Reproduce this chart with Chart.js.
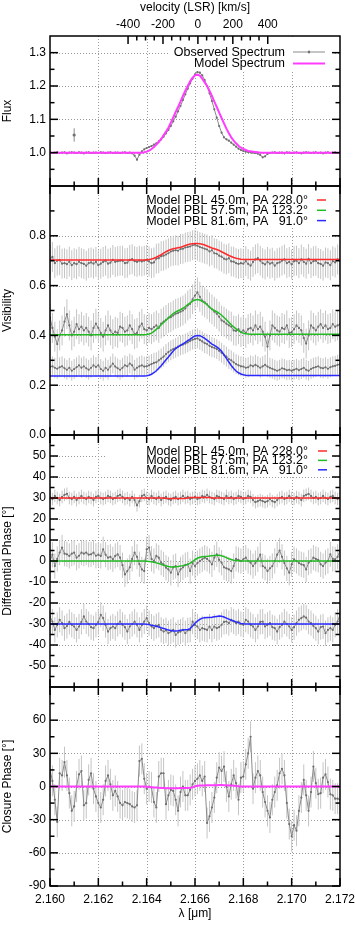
<!DOCTYPE html>
<html><head><meta charset="utf-8">
<script src="https://cdn.jsdelivr.net/npm/chart.js@4.4.1/dist/chart.umd.min.js"></script>
<style>
html,body{margin:0;padding:0;background:#fff;width:355px;height:925px;overflow:hidden}
canvas{position:absolute;left:0}
</style></head><body>
<canvas id="c1" width="355" height="196" style="top:0px;width:355px;height:196px"></canvas>
<canvas id="c2" width="355" height="269" style="top:176px;width:355px;height:269px"></canvas>
<canvas id="c3" width="355" height="272" style="top:425px;width:355px;height:272px"></canvas>
<canvas id="c4" width="355" height="248" style="top:677px;width:355px;height:248px"></canvas>
<script>
// ---------------- DATA ----------------
const wavelength = [
2.1600,2.1601,2.1602,2.1603,2.1604,2.1605,2.1606,2.1607,2.1608,2.1609,
2.1610,2.1611,2.1612,2.1613,2.1614,2.1615,2.1616,2.1617,2.1618,2.1619,
2.1620,2.1621,2.1622,2.1623,2.1624,2.1625,2.1626,2.1627,2.1628,2.1629,
2.1630,2.1631,2.1632,2.1633,2.1634,2.1635,2.1636,2.1637,2.1638,2.1639,
2.1640,2.1641,2.1642,2.1643,2.1644,2.1645,2.1646,2.1647,2.1648,2.1649,
2.1650,2.1651,2.1652,2.1653,2.1654,2.1655,2.1656,2.1657,2.1658,2.1659,
2.1660,2.1661,2.1662,2.1663,2.1664,2.1665,2.1666,2.1667,2.1668,2.1669,
2.1670,2.1671,2.1672,2.1673,2.1674,2.1675,2.1676,2.1677,2.1678,2.1679,
2.1680,2.1681,2.1682,2.1683,2.1684,2.1685,2.1686,2.1687,2.1688,2.1689,
2.1690,2.1691,2.1692,2.1693,2.1694,2.1695,2.1696,2.1697,2.1698,2.1699,
2.1700,2.1701,2.1702,2.1703,2.1704,2.1705,2.1706,2.1707,2.1708,2.1709,
2.1710,2.1711,2.1712,2.1713,2.1714,2.1715,2.1716,2.1717,2.1718,2.1719,
2.1720];

const fluxObserved = [
1.001,0.999,1.000,1.002,0.999,1.000,1.001,0.998,1.000,1.001,
1.000,0.999,1.001,1.000,0.998,1.000,1.001,0.999,1.000,1.000,
0.999,1.001,1.000,0.999,1.000,1.001,0.999,1.000,1.000,0.999,
1.000,1.001,0.999,1.000,0.998,0.991,0.979,0.994,1.004,1.010,
1.014,1.017,1.020,1.024,1.028,1.034,1.040,1.048,1.058,1.068,
1.080,1.094,1.108,1.124,1.140,1.158,1.175,1.192,1.208,1.222,
1.235,1.242,1.240,1.232,1.218,1.200,1.178,1.155,1.130,1.105,
1.080,1.060,1.046,1.040,1.036,1.030,1.024,1.018,1.012,1.008,
1.005,1.003,1.002,1.001,1.000,0.999,0.997,0.993,0.986,0.989,
0.996,0.999,1.000,1.001,0.999,1.000,1.000,0.998,1.001,1.000,
0.999,1.000,1.001,0.999,0.998,1.000,1.001,1.000,0.999,1.000,
1.001,0.999,1.000,0.998,1.000,1.001,0.999,1.000,1.001,0.999,
1.000];
const fluxModel = [
1,1,1,1,1,1,1,1,1,1,
1,1,1,1,1,1,1,1,1,1,
1,1,1,1,1,1,1,1,1,1,
1,1,1,1,1,1,1,1,1,1.001,
1.003,1.006,1.011,1.017,1.024,1.032,1.041,1.052,1.063,1.075,
1.090,1.106,1.122,1.137,1.153,1.170,1.186,1.200,1.214,1.225,
1.232,1.234,1.231,1.222,1.211,1.200,1.186,1.170,1.153,1.137,
1.120,1.104,1.088,1.072,1.058,1.046,1.036,1.028,1.021,1.015,
1.011,1.008,1.005,1.004,1.003,1.002,1.001,1,1,1,
1,1,1,1,1,1,1,1,1,1,
1,1,1,1,1,1,1,1,1,1,
1,1,1,1,1,1,1,1,1,1,
1];
const fluxError = 0.003;
const typicalErrorPoint = [2.161, 1.053, 0.02];

const visObserved45 = [
0.705,0.715,0.690,0.700,0.702,0.688,0.690,0.686,0.696,0.682,
0.690,0.686,0.696,0.690,0.687,0.680,0.690,0.693,0.688,0.695,
0.682,0.688,0.695,0.700,0.688,0.692,0.703,0.695,0.698,0.700,
0.700,0.690,0.692,0.703,0.706,0.698,0.695,0.700,0.697,0.700,
0.703,0.697,0.690,0.693,0.708,0.710,0.718,0.720,0.725,0.730,
0.737,0.740,0.742,0.740,0.747,0.748,0.753,0.755,0.757,0.762,
0.764,0.760,0.755,0.752,0.748,0.745,0.737,0.742,0.730,0.728,
0.720,0.716,0.708,0.705,0.710,0.697,0.696,0.690,0.687,0.690,
0.688,0.698,0.687,0.680,0.695,0.705,0.710,0.700,0.690,0.685,
0.695,0.688,0.692,0.680,0.690,0.693,0.700,0.705,0.690,0.695,
0.685,0.698,0.700,0.690,0.705,0.695,0.688,0.707,0.690,0.698,
0.700,0.690,0.687,0.680,0.693,0.690,0.682,0.698,0.693,0.705,
0.700];
const visObserved57 = [
0.470,0.430,0.395,0.365,0.400,0.420,0.455,0.485,0.440,0.400,
0.415,0.445,0.425,0.435,0.420,0.430,0.415,0.400,0.430,0.447,
0.430,0.410,0.395,0.420,0.440,0.420,0.405,0.415,0.410,0.435,
0.430,0.415,0.420,0.440,0.425,0.405,0.410,0.435,0.447,0.425,
0.420,0.430,0.425,0.433,0.440,0.430,0.447,0.455,0.462,0.470,
0.473,0.480,0.487,0.490,0.495,0.500,0.508,0.520,0.527,0.545,
0.560,0.573,0.555,0.540,0.533,0.525,0.513,0.505,0.495,0.487,
0.475,0.460,0.455,0.447,0.440,0.435,0.420,0.418,0.425,0.413,
0.420,0.410,0.425,0.430,0.420,0.440,0.425,0.435,0.415,0.395,
0.355,0.400,0.440,0.430,0.420,0.415,0.430,0.425,0.440,0.410,
0.413,0.425,0.440,0.430,0.420,0.390,0.367,0.400,0.440,0.430,
0.420,0.435,0.445,0.430,0.440,0.425,0.430,0.445,0.435,0.440,
0.445];
const visObserved81 = [
0.273,0.276,0.270,0.266,0.272,0.276,0.268,0.262,0.270,0.258,
0.265,0.272,0.280,0.270,0.276,0.268,0.262,0.270,0.280,0.273,
0.280,0.265,0.258,0.270,0.262,0.275,0.287,0.275,0.268,0.262,
0.270,0.280,0.276,0.287,0.280,0.262,0.270,0.276,0.280,0.275,
0.276,0.280,0.285,0.290,0.292,0.300,0.307,0.315,0.325,0.333,
0.340,0.345,0.350,0.355,0.360,0.363,0.367,0.372,0.378,0.383,
0.386,0.388,0.382,0.376,0.369,0.365,0.358,0.353,0.350,0.345,
0.338,0.330,0.322,0.315,0.305,0.300,0.292,0.285,0.280,0.276,
0.275,0.270,0.272,0.280,0.276,0.282,0.276,0.270,0.276,0.282,
0.275,0.270,0.266,0.262,0.258,0.262,0.268,0.265,0.260,0.262,
0.258,0.262,0.266,0.260,0.265,0.270,0.262,0.258,0.265,0.270,
0.273,0.276,0.270,0.268,0.272,0.266,0.272,0.276,0.278,0.282,
0.285];
const visModel45 = [
0.703,0.703,0.703,0.703,0.703,0.703,0.703,0.703,0.703,0.703,
0.703,0.703,0.703,0.703,0.703,0.703,0.703,0.703,0.703,0.703,
0.703,0.703,0.703,0.703,0.703,0.703,0.703,0.703,0.703,0.703,
0.703,0.703,0.703,0.703,0.703,0.703,0.703,0.703,0.703,0.703,
0.704,0.705,0.707,0.710,0.714,0.719,0.724,0.730,0.736,0.741,
0.745,0.748,0.750,0.752,0.754,0.757,0.761,0.764,0.767,0.768,
0.769,0.769,0.768,0.766,0.763,0.759,0.755,0.751,0.748,0.745,
0.741,0.736,0.731,0.726,0.721,0.717,0.713,0.710,0.708,0.706,
0.705,0.705,0.705,0.705,0.705,0.705,0.705,0.705,0.705,0.705,
0.705,0.705,0.705,0.705,0.705,0.705,0.705,0.705,0.705,0.705,
0.705,0.705,0.705,0.705,0.705,0.705,0.705,0.705,0.705,0.705,
0.705,0.705,0.705,0.705,0.705,0.705,0.705,0.705,0.705,0.705,
0.705];
const visModel57 = [
0.403,0.403,0.403,0.403,0.403,0.403,0.403,0.403,0.403,0.403,
0.403,0.403,0.403,0.403,0.403,0.403,0.403,0.403,0.403,0.403,
0.403,0.403,0.403,0.403,0.403,0.403,0.403,0.403,0.403,0.403,
0.403,0.403,0.403,0.403,0.403,0.403,0.403,0.403,0.403,0.403,
0.404,0.406,0.409,0.416,0.424,0.433,0.443,0.452,0.461,0.470,
0.480,0.488,0.494,0.499,0.503,0.509,0.516,0.524,0.531,0.538,
0.542,0.544,0.542,0.537,0.531,0.523,0.514,0.505,0.500,0.495,
0.489,0.481,0.472,0.463,0.453,0.443,0.434,0.426,0.419,0.413,
0.409,0.407,0.406,0.405,0.405,0.405,0.405,0.405,0.405,0.405,
0.405,0.405,0.405,0.405,0.405,0.405,0.405,0.405,0.405,0.405,
0.405,0.405,0.405,0.405,0.405,0.405,0.405,0.405,0.405,0.405,
0.405,0.405,0.405,0.405,0.405,0.405,0.405,0.405,0.405,0.405,
0.405];
const visModel81 = [
0.237,0.237,0.237,0.237,0.237,0.237,0.237,0.237,0.237,0.237,
0.237,0.237,0.237,0.237,0.237,0.237,0.237,0.237,0.237,0.237,
0.237,0.237,0.237,0.237,0.237,0.237,0.237,0.237,0.237,0.237,
0.237,0.237,0.237,0.237,0.237,0.237,0.237,0.237,0.237,0.237,
0.238,0.240,0.244,0.250,0.258,0.268,0.278,0.290,0.302,0.313,
0.325,0.337,0.347,0.354,0.360,0.366,0.372,0.379,0.385,0.392,
0.398,0.400,0.399,0.394,0.388,0.381,0.373,0.365,0.360,0.354,
0.346,0.336,0.322,0.308,0.293,0.279,0.267,0.257,0.250,0.245,
0.242,0.240,0.239,0.239,0.239,0.239,0.239,0.239,0.239,0.239,
0.239,0.239,0.239,0.239,0.239,0.239,0.239,0.239,0.239,0.239,
0.239,0.239,0.239,0.239,0.239,0.239,0.239,0.239,0.239,0.239,
0.239,0.239,0.239,0.239,0.239,0.239,0.239,0.239,0.239,0.239,
0.239];
const visErrors = [0.06, 0.06, 0.04];

const dpObserved45 = [
30.5,29.5,31,30,29,30.5,31.5,32,30,29.5,
30.5,29,30,31,30,29.5,30.5,30,29,30.5,
31,30,29.5,30,31,30.5,29.5,30,31,31.5,
30.5,29.5,30,29,30.5,29,26.5,28.5,31,31.5,
30,29.5,31,30,29.5,30.5,29,30,30.5,29.5,
29,30,30.5,29.5,30,31,30,30.5,29.5,30,
30.5,29.5,30,31,30.5,31.5,30.5,30,29.5,31,
30.5,30,29.5,31,30,30.5,29.5,30,31,30.5,
29.5,30,31,30.5,29,28,28.5,29,28.5,28,
28.5,29.5,28.5,28,29,30,30.5,29.5,30,31,
30,29.5,30.5,30,29,31,31.5,32,31,30,
30.5,29.5,30,31,30,29.5,30.5,31,30,29.5,
30];
const dpObserved57 = [
0,3,-2.4,1,4,6.4,3.5,3.2,2.4,3.5,
4,1.6,2.5,4,3.5,4,3,3.2,4,2.5,
3,2.4,5.6,3,1.6,2,0.8,2.4,3.2,1.6,
-2,-6.4,-4.8,-3,1,4,2,-1.5,-4,-4.8,
5.6,6.4,1,0,2.4,1.6,-0.8,-1.6,-3.2,-4,
-5.6,-3,-2.4,-6.4,-4,-3,-2,-1.6,-4.8,-1,
-2.4,-1,0,0.8,1.6,1,0,-1.6,1.6,3.2,
0.5,-0.8,-3,-3.5,-4,-4.8,-2.4,1,0.5,0,
0.8,1.6,0,-0.8,-2.4,-1,0.8,3,-2.4,-3.2,
-4.8,-3.5,-2.4,0,3,5,2,-1,-3.5,-5.6,
-1.6,0.8,0,-1,-1.6,-2,-4,-0.8,0,1.6,
1,0.5,-1.6,-2.4,-0.8,0,3.2,1,0.8,2,
5];
const dpObserved81 = [
-26.4,-28.8,-32.8,-30.4,-28,-29.6,-32,-31,-29,-30.4,
-31.2,-32.8,-31.2,-29,-26.4,-28.8,-30,-31.5,-32,-30.4,
-29,-25.6,-27.2,-30.5,-33.6,-32,-31.2,-32,-30,-28.8,
-30.4,-31.5,-33.6,-31.2,-30,-28.8,-30.4,-32.8,-30.5,-28.8,
-27.2,-29.6,-31.2,-32,-31,-30.4,-32.8,-33.6,-33,-34.4,
-33.6,-32.8,-35.2,-34,-33.6,-32.8,-34.4,-33,-32.8,-28.8,
-30.5,-31.2,-32.8,-32,-32.4,-32.8,-31.2,-32.8,-31.2,-32,
-31.5,-30.4,-29,-28.8,-29.6,-28,-28.8,-29.6,-28.8,-30,
-30.4,-28,-28.8,-30.4,-31.2,-32.8,-31.2,-29,-28.8,-31.2,
-30.4,-29.6,-31.5,-32,-33.6,-31.5,-30.4,-28.8,-30,-31.2,
-32.8,-31.5,-29.6,-28,-27.2,-26.4,-27,-28.8,-29.6,-31,
-32,-33.6,-31.5,-31.2,-34.4,-32.8,-32,-32.8,-30.4,-28.8,
-25.6];
const dpModel45 = [
30,30,30,30,30,30,30,30,30,30,
30,30,30,30,30,30,30,30,30,30,
30,30,30,30,30,30,30,30,30,30,
30,30,30,30,30,30,30,30,30,30,
30,30,30,30,30,30,30,30,29.8,29.8,
29.8,29.8,29.8,29.8,29.8,29.8,29.8,30,30.2,30.2,
30.2,30.2,30.2,30.2,30.2,30.2,30.2,30,30,30,
30,30,30,30,30,30,30,30,30,30,
30,30,30,30,30,30,30,30,30,30,
30,30,30,30,30,30,30,30,30,30,
30,30,30,30,30,30,30,30,30,30,
30,30,30,30,30,30,30,30,30,30,
30];
const dpModel57 = [
0,0,0,0,0,0,0,0,0,0,
0,0,0,0,0,0,0,0,0,0,
0,0,0,0,0,0,0,0,0,0,
0,0,0,0,0,0,0,0,0,0,
-0.1,-0.2,-0.4,-0.6,-0.9,-1.2,-1.6,-2.0,-2.3,-2.6,
-2.8,-2.8,-2.7,-2.6,-2.4,-2.2,-1.9,-1.6,-1.0,-0.3,
0.6,1.3,1.8,2.0,2.1,2.2,2.4,2.5,2.6,2.7,
2.7,2.5,2.1,1.6,1.1,0.7,0.4,0.2,0.1,0.0,
0,0,0,0,0,0,0,0,0,0,
0,0,0,0,0,0,0,0,0,0,
0,0,0,0,0,0,0,0,0,0,
0,0,0,0,0,0,0,0,0,0,
0];
const dpModel81 = [
-30,-30,-30,-30,-30,-30,-30,-30,-30,-30,
-30,-30,-30,-30,-30,-30,-30,-30,-30,-30,
-30,-30,-30,-30,-30,-30,-30,-30,-30,-30,
-30,-30,-30,-30,-30,-30,-30,-30,-30,-30,
-30.1,-30.3,-30.6,-30.8,-31.1,-31.4,-31.8,-32.1,-32.5,-32.9,
-33.1,-33.3,-33.3,-33.2,-33.0,-32.8,-32.7,-32.6,-32.2,-31.0,
-29.6,-28.6,-27.8,-27.2,-27.0,-26.9,-26.9,-26.8,-26.6,-26.4,
-26.2,-26.3,-26.7,-27.2,-27.7,-28.2,-28.6,-29.0,-29.4,-29.7,
-29.9,-30,-30,-30,-30,-30,-30,-30,-30,-30,
-30,-30,-30,-30,-30,-30,-30,-30,-30,-30,
-30,-30,-30,-30,-30,-30,-30,-30,-30,-30,
-30,-30,-30,-30,-30,-30,-30,-30,-30,-30,
-30];
const dpErrors = [3, 6, 6];

const cpObserved = [
15,5,-12,-32,12,10,22,10,-6,-22,
-18,0,11,14,-17,-15,6,12,-2,-9,
-15,-19,-12,5,10,2,-8,-4,-9,-15,
-17,-14,-15,-16,-18,-19,-17,23,25,7,
-2,0,-1,-14,-19,9,12,12,-16,-8,
-3,-4,-12,-22,-5,0,-8,-8,-3,2,
5,7,10,5,9,-33,-27,-19,-10,8,
17,14,18,0,-9,2,10,3,-12,8,
9,20,30,45,-2,8,14,10,-5,-14,
-22,-28,-12,-5,1,12,16,10,-15,-34,
-45,-35,-40,-22,-10,6,-8,-22,-5,18,
3,-7,-6,8,11,4,-7,-8,-11,-11,
-12];
const cpModel = [
0,0,0,0,0,0,0,0,0,0,
0,0,0,0,0,0,0,0,0,0,
0,0,0,0,0,0,0,0,0,0,
0,0,0,0,0,0,0,0,0,0,
-0.2,-0.4,-0.6,-0.8,-1.0,-1.2,-1.3,-1.4,-1.5,-1.5,
-1.5,-1.5,-1.5,-1.5,-1.4,-1.4,-1.3,-1.3,-1.2,-0.8,
0.2,0.6,0.8,1.0,1.0,1.1,1.1,1.2,1.2,1.2,
1.3,1.3,1.2,1.1,1.0,0.8,0.6,0.4,0.2,0.1,
0,0,0,0,0,0,0,0,0,0,
0,0,0,0,0,0,0,0,0,0,
0,0,0,0,0,0,0,0,0,0,
0,0,0,0,0,0,0,0,0,0,
0];
const cpError = 14;

const baselineLabels = ['Model PBL 45.0m, PA 228.0°', 'Model PBL 57.5m, PA 123.2°', 'Model PBL 81.6m, PA   91.0°'];

// tick labels
const lambdaLabels = [2.160, 2.162, 2.164, 2.166, 2.168, 2.170, 2.172];
const lambdaMinor = [2.161, 2.163, 2.165, 2.167, 2.169, 2.171];
const velocityLabels = [-400, -200, 0, 200, 400];
const velocityMinor = [-350, -300, -250, -150, -100, -50, 50, 100, 150, 250, 300, 350];
const fluxLabels = [1.0, 1.1, 1.2, 1.3];
const fluxMinor = [0.95, 1.05, 1.15, 1.25];
const visLabels = [0.0, 0.2, 0.4, 0.6, 0.8];
const visMinor = [0.1, 0.3, 0.5, 0.7, 0.9];
const dpLabels = [-50, -40, -30, -20, -10, 0, 10, 20, 30, 40, 50];
const dpMinor = [-55, -45, -35, -25, -15, -5, 5, 15, 25, 35, 45, 55];
const cpLabels = [-90, -60, -30, 0, 30, 60];
const cpMinor = [-75, -45, -15, 15, 45, 75];

// ---------------- STYLE / HELPERS ----------------
const FONT = '"Liberation Sans", Arial, Helvetica, sans-serif';
const LMIN = 2.160, LMAX = 2.172;
const C_KMS = 299792.458, LAMBDA0 = 2.16612;
const vMin = (LMIN - LAMBDA0) / LAMBDA0 * C_KMS;
const vMax = (LMAX - LAMBDA0) / LAMBDA0 * C_KMS;
const COL = {red: '#ff2a2a', green: '#22bb22', blue: '#2a2aff', magenta: '#ff3cff',
  obs: '#8a8a8a', obsPt: '#6e6e6e', err: '#c4c4c4', grid: '#9a9a9a'};

function pts(vals) { return vals.map((v, i) => ({x: wavelength[i], y: v})); }

function obsDs(label, vals, err) {
  return {label, data: pts(vals), xAxisID: 'x', yAxisID: 'y', borderColor: COL.obs, borderWidth: 1,
    pointRadius: 1.1, pointBackgroundColor: COL.obsPt, pointBorderWidth: 0, pointHoverRadius: 0,
    tension: 0, fill: false, order: 1, errs: err, errColor: COL.err};
}
function modelDs(label, vals, color, w) {
  return {label, data: pts(vals), xAxisID: 'x', yAxisID: 'y', borderColor: color, borderWidth: w || 1.5,
    pointRadius: 0, pointHoverRadius: 0, tension: 0, fill: false, order: 0};
}

function yScale(min, max, labels, title, digits) {
  return {
    type: 'linear', position: 'left', min, max, bounds: 'data',
    grid: {display: false, drawTicks: false}, border: {display: false},
    ticks: {color: '#000', font: {family: FONT, size: 12}, padding: 4, autoSkip: false,
      callback: v => Number(v).toFixed(digits)},
    afterBuildTicks: s => { s.ticks = labels.map(v => ({value: v})); },
    afterFit: s => { s.width = 50; s.paddingTop = 0; s.paddingBottom = 0; },
    title: {display: true, text: title, color: '#000', font: {family: FONT, size: 12}, padding: {top: 0, bottom: 0}}
  };
}
function xHidden() {
  return {type: 'linear', position: 'bottom', min: LMIN, max: LMAX, display: false};
}

function makePanel(cfg) {
  const line = (ctx, x1, y1, x2, y2) => { ctx.beginPath(); ctx.moveTo(x1, y1); ctx.lineTo(x2, y2); ctx.stroke(); };
  return {
    id: 'panel' + cfg.id,
    beforeDatasetsDraw(chart) {
      const {ctx, chartArea: a, scales} = chart;
      const xs = scales.x, ys = scales.y;
      ctx.save();
      ctx.beginPath(); ctx.rect(a.left, a.top, a.width, a.height); ctx.clip();
      ctx.strokeStyle = COL.grid; ctx.lineWidth = 1; ctx.setLineDash([1, 2]);
      cfg.xGrid.forEach(v => { const p = Math.round(xs.getPixelForValue(v)) + 0.5; line(ctx, p, a.top, p, a.bottom); });
      cfg.yGrid.forEach(v => { const p = Math.round(ys.getPixelForValue(v)) + 0.5; line(ctx, a.left, p, a.right, p); });
      ctx.setLineDash([]);
      chart.data.datasets.forEach(ds => {
        if (ds.errs === undefined) return;
        ctx.strokeStyle = ds.errColor; ctx.lineWidth = 1;
        ds.data.forEach(pt => {
          const px = xs.getPixelForValue(pt.x);
          line(ctx, px, ys.getPixelForValue(pt.y - ds.errs), px, ys.getPixelForValue(pt.y + ds.errs));
        });
      });
      ctx.restore();
    },
    afterDatasetsDraw(chart) {
      const L = cfg.legend;
      if (!L) return;
      const {ctx} = chart;
      const off = cfg.top;
      ctx.save();
      ctx.fillStyle = '#fff';
      ctx.fillRect(L.box[0], L.box[1] - off, L.box[2], L.box[3]);
      ctx.font = '12.5px ' + FONT;
      ctx.textAlign = 'right'; ctx.textBaseline = 'middle';
      L.items.forEach((it, k) => {
        const ds = chart.data.datasets[it.ds];
        const yy = L.rows[k] - off;
        ctx.fillStyle = '#000';
        ctx.fillText(ds.label, L.textRight, yy + 0.5);
        ctx.strokeStyle = ds.borderColor; ctx.lineWidth = ds.borderWidth;
        line(ctx, L.s1, yy, L.s2, yy);
        if (it.marker) {
          const cx = (L.s1 + L.s2) / 2;
          ctx.strokeStyle = COL.err; ctx.lineWidth = 1;
          line(ctx, cx, yy - 2, cx, yy + 2);
          ctx.fillStyle = COL.obsPt;
          ctx.beginPath(); ctx.arc(cx, yy, 1.2, 0, Math.PI * 2); ctx.fill();
        }
      });
      ctx.restore();
    },
    afterDraw(chart) {
      const {ctx, chartArea: a, scales} = chart;
      const xs = scales.x, ys = scales.y;
      const MAJ = 8, MIN = 4.5;
      ctx.save();
      ctx.strokeStyle = '#000'; ctx.lineWidth = 1.5;
      const tickX = (vals, len, top) => vals.forEach(v => {
        const p = xs.getPixelForValue(v);
        line(ctx, p, a.bottom, p, a.bottom - len);
        if (top) line(ctx, p, a.top, p, a.top + len);
      });
      tickX(lambdaLabels, MAJ, cfg.lambdaTop);
      tickX(lambdaMinor, MIN, cfg.lambdaTop);
      if (scales.v) {
        velocityLabels.forEach(v => { const p = scales.v.getPixelForValue(v); line(ctx, p, a.top, p, a.top + MAJ); });
        velocityMinor.forEach(v => { const p = scales.v.getPixelForValue(v); line(ctx, p, a.top, p, a.top + MIN); });
      }
      const tickY = (vals, len) => vals.forEach(v => {
        const p = ys.getPixelForValue(v);
        if (p < a.top - 0.5 || p > a.bottom + 0.5) return;
        line(ctx, a.left, p, a.left + len, p);
        line(ctx, a.right, p, a.right - len, p);
      });
      tickY(cfg.yMajor, MAJ);
      tickY(cfg.yMinor, MIN);
      ctx.strokeRect(a.left, a.top, a.width, a.height);
      ctx.restore();
    }
  };
}

function baseOptions(padding, scales) {
  return {
    responsive: false, animation: false, devicePixelRatio: 1,
    layout: {padding},
    plugins: {legend: {display: false}, tooltip: {enabled: false}},
    events: [],
    scales
  };
}

Chart.defaults.font.family = FONT;
Chart.defaults.color = '#000';

const interiorLambda = lambdaLabels.slice(1, -1);

// ---------------- PANEL 1 : FLUX ----------------
new Chart(document.getElementById('c1'), {
  type: 'line',
  data: {datasets: [
    obsDs('Observed Spectrum', fluxObserved, fluxError),
    modelDs('Model Spectrum', fluxModel, COL.magenta, 2),
    {label: 'typical error', data: [{x: typicalErrorPoint[0], y: typicalErrorPoint[1]}], xAxisID: 'x', yAxisID: 'y',
      showLine: false, pointRadius: 1.6, pointBackgroundColor: '#707070', pointBorderWidth: 0,
      errs: typicalErrorPoint[2], errColor: '#8c8c8c', order: 1}
  ]},
  options: baseOptions({left: 0, right: 15, top: 0, bottom: 10}, {
    x: xHidden(),
    v: {type: 'linear', axis: 'x', position: 'top', min: vMin, max: vMax, bounds: 'data',
      grid: {display: false, drawTicks: false}, border: {display: false},
      ticks: {color: '#000', font: {family: FONT, size: 12}, padding: 4, autoSkip: false, maxRotation: 0,
        callback: v => String(v)},
      afterBuildTicks: s => { s.ticks = velocityLabels.map(v => ({value: v})); },
      afterFit: s => { s.height = 36; s.paddingLeft = 0; s.paddingRight = 0; },
      title: {display: true, text: 'velocity (LSR) [km/s]', color: '#000', font: {family: FONT, size: 12}, padding: {top: 0, bottom: 0}}
    },
    y: yScale(0.9, 1.35, fluxLabels, 'Flux', 1)
  }),
  plugins: [makePanel({id: 1, top: 0, xGrid: interiorLambda, yGrid: fluxLabels, lambdaTop: false,
    yMajor: fluxLabels, yMinor: fluxMinor,
    legend: {box: [170, 39, 165, 31], textRight: 285, s1: 293, s2: 325, rows: [52, 63.5],
      items: [{ds: 0, marker: true}, {ds: 1}]}})]
});

// ---------------- PANEL 2 : VISIBILITY ----------------
new Chart(document.getElementById('c2'), {
  type: 'line',
  data: {datasets: [
    modelDs(baselineLabels[0], visModel45, COL.red),
    modelDs(baselineLabels[1], visModel57, COL.green),
    modelDs(baselineLabels[2], visModel81, COL.blue),
    obsDs('', visObserved45, visErrors[0]),
    obsDs('', visObserved57, visErrors[1]),
    obsDs('', visObserved81, visErrors[2])
  ]},
  options: baseOptions({left: 0, right: 15, top: 10, bottom: 10}, {
    x: xHidden(),
    y: yScale(0, 1.0, visLabels, 'Visibility', 1)
  }),
  plugins: [makePanel({id: 2, top: 176, xGrid: interiorLambda, yGrid: visLabels.slice(1), lambdaTop: true,
    yMajor: visLabels, yMinor: visMinor,
    legend: {box: [105, 189, 230, 38], textRight: 308, s1: 317, s2: 326, rows: [200, 210.3, 220.6],
      items: [{ds: 0}, {ds: 1}, {ds: 2}]}})]
});

// ---------------- PANEL 3 : DIFFERENTIAL PHASE ----------------
new Chart(document.getElementById('c3'), {
  type: 'line',
  data: {datasets: [
    modelDs(baselineLabels[0], dpModel45, COL.red),
    modelDs(baselineLabels[1], dpModel57, COL.green),
    modelDs(baselineLabels[2], dpModel81, COL.blue),
    obsDs('', dpObserved45, dpErrors[0]),
    obsDs('', dpObserved57, dpErrors[1]),
    obsDs('', dpObserved81, dpErrors[2])
  ]},
  options: baseOptions({left: 0, right: 15, top: 10, bottom: 10}, {
    x: xHidden(),
    y: yScale(-60, 60, dpLabels, 'Differential Phase [°]', 0)
  }),
  plugins: [makePanel({id: 3, top: 425, xGrid: interiorLambda, yGrid: dpLabels, lambdaTop: true,
    yMajor: dpLabels, yMinor: dpMinor,
    legend: {box: [105, 440, 230, 35], textRight: 308, s1: 318, s2: 327, rows: [451, 460.4, 469.8],
      items: [{ds: 0}, {ds: 1}, {ds: 2}]}})]
});

// ---------------- PANEL 4 : CLOSURE PHASE ----------------
new Chart(document.getElementById('c4'), {
  type: 'line',
  data: {datasets: [
    modelDs('Model closure phase', cpModel, COL.magenta, 2),
    obsDs('Observed closure phase', cpObserved, cpError)
  ]},
  options: baseOptions({left: 0, right: 15, top: 10, bottom: 0}, {
    x: {type: 'linear', position: 'bottom', min: LMIN, max: LMAX, bounds: 'data',
      grid: {display: false, drawTicks: false}, border: {display: false},
      ticks: {color: '#000', font: {family: FONT, size: 12}, padding: 6, autoSkip: false, maxRotation: 0,
        callback: v => Number(v).toFixed(3)},
      afterBuildTicks: s => { s.ticks = lambdaLabels.map(v => ({value: v})); },
      afterFit: s => { s.height = 39; s.paddingLeft = 0; s.paddingRight = 0; },
      title: {display: true, text: 'λ [μm]', color: '#000', font: {family: FONT, size: 12}, padding: {top: 0, bottom: 4}}
    },
    y: yScale(-90, 90, cpLabels, 'Closure Phase [°]', 0)
  }),
  plugins: [makePanel({id: 4, top: 677, xGrid: interiorLambda, yGrid: cpLabels.slice(1), lambdaTop: true,
    yMajor: cpLabels, yMinor: cpMinor})]
});
</script>
</body></html>
